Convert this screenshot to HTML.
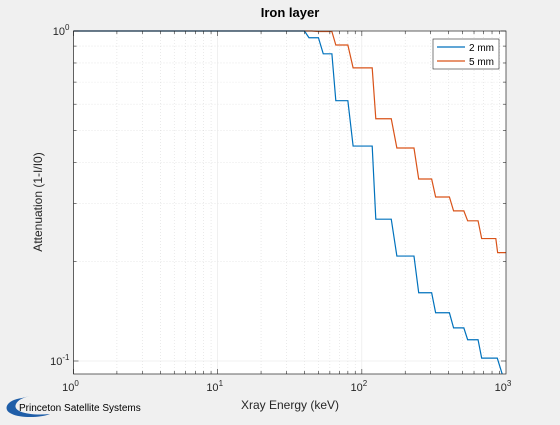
<!DOCTYPE html>
<html><head><meta charset="utf-8"><style>
body{margin:0;background:#f0f0f0;width:560px;height:420px;overflow:hidden;font-family:"Liberation Sans",sans-serif}
svg text{font-family:"Liberation Sans",sans-serif}
</style></head><body>
<svg id="chart" width="560" height="420" xmlns="http://www.w3.org/2000/svg">
<defs><clipPath id="clip"><rect x="73.5" y="30" width="432.5" height="344"/></clipPath></defs>
<rect width="560" height="420" fill="#f0f0f0"/>
<rect x="73.5" y="31" width="432.5" height="343" fill="#fff"/>
<g id="grid"></g><g id="series" clip-path="url(#clip)"></g><g id="axes"></g>
<text x="290" y="17" font-size="13" font-weight="bold" text-anchor="middle" fill="#000">Iron layer</text>
<text x="290" y="409" font-size="12" text-anchor="middle" fill="#262626">Xray Energy (keV)</text>
<text transform="translate(42,202) rotate(-90)" font-size="12" text-anchor="middle" fill="#262626">Attenuation (1-I/I0)</text>
<g>
<rect x="433" y="39" width="66" height="30" fill="#fff" stroke="#262626" stroke-width="0.6"/>
<line x1="437" y1="47" x2="465" y2="47" stroke="#0072bd" stroke-width="1.2"/>
<text x="469" y="51" font-size="10" fill="#000">2 mm</text>
<line x1="437" y1="61" x2="465" y2="61" stroke="#d95319" stroke-width="1.2"/>
<text x="469" y="65" font-size="10" fill="#000">5 mm</text>
</g>
<g>
<path d="M22,398 C6,400 2,410 12,414 C20,418 40,418 50,414 C30,416 12,412 16,404 C18,400 22,398 30,396 Z" fill="#1f5ea8"/>
<text x="19" y="411" font-size="10" fill="#000">Princeton Satellite Systems</text>
</g>
</svg>
<script>
const energies2 = [1,40,43,50,54,62,66,80,87,118,125,160,175,230,248,305,325,405,433,510,542,640,678,870,990];
const atten2 = [1,1,0.954,0.954,0.853,0.853,0.615,0.615,0.448,0.448,0.269,0.269,0.208,0.208,0.161,0.161,0.140,0.140,0.126,0.126,0.116,0.116,0.102,0.102,0.085];
const energies5 = [1,45,50,62,66,80,87,118,125,160,175,230,248,305,325,405,433,510,542,640,678,850,875,1000];
const atten5 = [1,1,0.996,0.996,0.907,0.907,0.773,0.773,0.542,0.542,0.442,0.442,0.356,0.356,0.314,0.314,0.285,0.285,0.266,0.266,0.235,0.235,0.213,0.213];
const xTickLabels = ["0","1","2","3"];
const yTickLabels = ["0","-1"];
const X0=73.5,X1=506,Y0=31,YD=330,YB=374;
const xs=e=>X0+(X1-X0)*Math.log10(e)/3;
const ys=a=>Y0-YD*Math.log10(a);
const NS="http://www.w3.org/2000/svg";
function mk(t,at,p){const el=document.createElementNS(NS,t);for(const k in at)el.setAttribute(k,at[k]);p.appendChild(el);return el;}
const grid=document.getElementById('grid'),axes=document.getElementById('axes'),ser=document.getElementById('series');
for(let d=0;d<3;d++)for(let m=1;m<=9;m++){const e=Math.pow(10,d)*m;const x=xs(e);
 const g=mk('line',{x1:x,x2:x,y1:Y0,y2:YB,stroke:m==1?'#e6e6e6':'#dcdcdc','stroke-width':0.6,'stroke-dasharray':m==1?'':'1,2'},grid);
 
 mk('line',{x1:x,x2:x,y1:YB,y2:YB-(m==1?5:3),stroke:'#262626','stroke-width':0.6},axes);
 mk('line',{x1:x,x2:x,y1:Y0,y2:Y0+(m==1?5:3),stroke:'#262626','stroke-width':0.6},axes);}
for(let m=1;m<=10;m++){const a=m/10;const y=ys(a);if(y>YB)continue;
 const g=mk('line',{x1:X0,x2:X1,y1:y,y2:y,stroke:(m==1||m==10)?'#e6e6e6':'#dcdcdc','stroke-width':0.6,'stroke-dasharray':(m==1||m==10)?'':'1,2'},grid);
 
 mk('line',{x1:X0,x2:X0+((m==1||m==10)?5:3),y1:y,y2:y,stroke:'#262626','stroke-width':0.6},axes);
 mk('line',{x1:X1,x2:X1-((m==1||m==10)?5:3),y1:y,y2:y,stroke:'#262626','stroke-width':0.6},axes);}
const box=mk('rect',{x:X0,y:Y0,width:X1-X0,height:YB-Y0,fill:'none',stroke:'#262626','stroke-width':0.7},axes);

xTickLabels.forEach((p,i)=>{const t=mk('text',{x:xs(Math.pow(10,+p))-3,y:391,'font-size':11,'text-anchor':'middle',fill:'#262626'},axes);
 
 t.innerHTML='10<tspan dy="-5" font-size="8">'+p+'</tspan>';});
yTickLabels.forEach(p=>{const t=mk('text',{x:X0-4,y:ys(Math.pow(10,+p))+4,'font-size':11,'text-anchor':'end',fill:'#262626'},axes);
 
 t.innerHTML='10<tspan dy="-5" font-size="8">'+p+'</tspan>';});
function line(E,A,c,n){const pts=E.map((e,i)=>xs(e).toFixed(2)+','+ys(A[i]).toFixed(2)).join(' ');
 const pl=mk('polyline',{points:pts,fill:'none',stroke:c,'stroke-width':1.2},ser);
 }
line(energies5,atten5,'#d95319','series-5mm');
line(energies2,atten2,'#0072bd','series-2mm');
</script>
</body></html>
